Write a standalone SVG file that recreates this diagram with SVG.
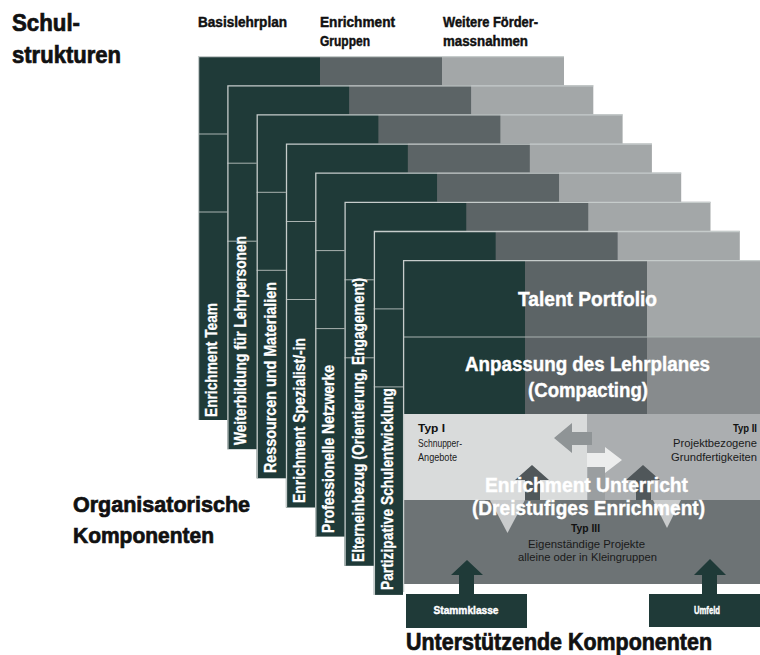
<svg xmlns="http://www.w3.org/2000/svg" width="760" height="655" viewBox="0 0 760 655">
<style>
.dk{fill:#1f3a38}.md{fill:#5c6466}.lt{fill:#a3a7a8}
.edge{fill:none;stroke:#c6cccb;stroke-width:1.3}
.sep{stroke:#a9b2b0;stroke-width:1}
.strip{font-family:"Liberation Sans",Arial,sans-serif;font-weight:bold;font-size:16px;fill:#ffffff;stroke:#ffffff;stroke-width:0.3}
.hd{font-family:"Liberation Sans",Arial,sans-serif;font-weight:bold;fill:#111111;stroke:#111111;stroke-width:0.7}
.hs{stroke-width:0.45}
.wt{font-family:"Liberation Sans",Arial,sans-serif;font-weight:bold;fill:#ffffff;stroke:#ffffff;stroke-width:0.4}
.sm{font-family:"Liberation Sans",Arial,sans-serif;font-size:11px;fill:#1a1a1a}
.smb{font-family:"Liberation Sans",Arial,sans-serif;font-size:11px;font-weight:bold;fill:#111111}
</style>
<defs>
<g id="card">
<rect class="dk" x="0" y="0" width="122" height="364"/>
<rect class="md" x="122" y="0" width="122" height="364"/>
<rect class="lt" x="244" y="0" width="122" height="364"/>
<line class="sep" x1="0" y1="78" x2="366" y2="78"/>
<line class="sep" x1="0" y1="156" x2="366" y2="156"/>
<path class="edge" d="M0.6,364 V0.6 H366"/>
</g>
</defs>
<rect width="760" height="655" fill="#ffffff"/>

<g id="headers">
<text class="hd" x="12" y="31" font-size="23" textLength="68" lengthAdjust="spacingAndGlyphs">Schul-</text>
<text class="hd" x="12" y="63" font-size="23" textLength="109" lengthAdjust="spacingAndGlyphs">strukturen</text>
<text class="hd hs" x="198" y="27" font-size="14" textLength="89" lengthAdjust="spacingAndGlyphs">Basislehrplan</text>
<text class="hd hs" x="320" y="27" font-size="14" textLength="75" lengthAdjust="spacingAndGlyphs">Enrichment</text>
<text class="hd hs" x="320" y="46" font-size="14" textLength="50" lengthAdjust="spacingAndGlyphs">Gruppen</text>
<text class="hd hs" x="443" y="27" font-size="14" textLength="95" lengthAdjust="spacingAndGlyphs">Weitere Förder-</text>
<text class="hd hs" x="443" y="46" font-size="14" textLength="85" lengthAdjust="spacingAndGlyphs">massnahmen</text>
<text class="hd" x="73" y="512" font-size="22" textLength="177" lengthAdjust="spacingAndGlyphs">Organisatorische</text>
<text class="hd" x="73" y="543" font-size="22" textLength="141" lengthAdjust="spacingAndGlyphs">Komponenten</text>
</g>

<g id="card-enrichment-team">
<use href="#card" x="198" y="56"/>
<text class="strip" transform="translate(217,417) rotate(-90)" textLength="114" lengthAdjust="spacingAndGlyphs">Enrichment Team</text>
</g>
<g id="card-weiterbildung">
<use href="#card" x="227.3" y="85.2"/>
<text class="strip" transform="translate(246.3,445) rotate(-90)" textLength="209" lengthAdjust="spacingAndGlyphs">Weiterbildung für Lehrpersonen</text>
</g>
<g id="card-ressourcen">
<use href="#card" x="256.6" y="114.3"/>
<text class="strip" transform="translate(275.6,473) rotate(-90)" textLength="191" lengthAdjust="spacingAndGlyphs">Ressourcen und Materialien</text>
</g>
<g id="card-spezialist">
<use href="#card" x="285.9" y="143.5"/>
<text class="strip" transform="translate(304.9,503) rotate(-90)" textLength="165" lengthAdjust="spacingAndGlyphs">Enrichment Spezialist/-in</text>
</g>
<g id="card-netzwerke">
<use href="#card" x="315.2" y="172.6"/>
<text class="strip" transform="translate(334.2,533) rotate(-90)" textLength="168" lengthAdjust="spacingAndGlyphs">Professionelle Netzwerke</text>
</g>
<g id="card-elterneinbezug">
<use href="#card" x="344.5" y="201.8"/>
<text class="strip" transform="translate(363.5,562) rotate(-90)" textLength="284" lengthAdjust="spacingAndGlyphs">Elterneinbezug (Orientierung, Engagement)</text>
</g>
<g id="card-schulentwicklung">
<use href="#card" x="373.8" y="230.9"/>
<text class="strip" transform="translate(392.8,590) rotate(-90)" textLength="202" lengthAdjust="spacingAndGlyphs">Partizipative Schulentwicklung</text>
</g>

<g id="front-card">
<rect x="403" y="260" width="357" height="395" fill="#ffffff"/>
<g id="talent-portfolio">
<rect class="dk" x="403" y="260" width="122" height="77"/>
<rect class="md" x="525" y="260" width="122" height="77"/>
<rect class="lt" x="647" y="260" width="113" height="77"/>
<text class="wt" x="587.5" y="306" font-size="20" text-anchor="middle" textLength="139" lengthAdjust="spacingAndGlyphs">Talent Portfolio</text>
</g>
<g id="anpassung">
<rect class="dk" x="403" y="337" width="122" height="77"/>
<rect x="525" y="337" width="122" height="77" fill="#5a6164"/>
<rect x="647" y="337" width="113" height="77" fill="#878b8d"/>
<line class="sep" x1="403" y1="337" x2="760" y2="337"/>
<text class="wt" x="587.5" y="371" font-size="20" text-anchor="middle" textLength="245" lengthAdjust="spacingAndGlyphs">Anpassung des Lehrplanes</text>
<text class="wt" x="588" y="397" font-size="20" text-anchor="middle" textLength="120" lengthAdjust="spacingAndGlyphs">(Compacting)</text>
</g>
<g id="enrichment-area">
<rect x="403" y="414" width="184" height="86" fill="#d9dbdb"/>
<rect x="587" y="414" width="173" height="86" fill="#abaeb0"/>
<rect x="403" y="500" width="357" height="84" fill="#6d7375"/>
</g>
<path class="edge" d="M403.6,592 V260.6 H760"/>
</g>

<g id="connectors">
<polygon points="554,438 572,423 572,432 592,432 592,445 572,445 572,453" fill="#8f9496"/>
<polygon points="622,460 605,447 605,453 587,453 587,467 605,467 605,473" fill="#eceded"/>
<rect x="588" y="467" width="17" height="33" fill="#9a9ea0"/>
<polygon points="532,465 549,480 540,480 540,500 525,500 525,480 515,480" fill="#50575a"/>
<polygon points="643,465 660,480 651,480 651,500 636,500 636,480 626,480" fill="#50575a"/>
<polygon points="490,500 525,500 507.5,533" fill="#c9cbcc"/>
<polygon points="653,500 681,500 667,528" fill="#c9cbcc"/>
<polygon points="467,560 483,575 474,575 474,595 459,595 459,575 451,575" fill="#1f3a38"/>
<polygon points="710,559 726,575 717,575 717,595 702,595 702,575 694,575" fill="#1f3a38"/>
</g>

<g id="enrichment-label">
<text class="wt" x="586.5" y="492" font-size="21" text-anchor="middle" textLength="203" lengthAdjust="spacingAndGlyphs">Enrichment Unterricht</text>
<text class="wt" x="588.5" y="515" font-size="21" text-anchor="middle" textLength="233" lengthAdjust="spacingAndGlyphs">(Dreistufiges Enrichment)</text>
</g>
<g id="typ1">
<text class="smb" x="418" y="432" textLength="27" lengthAdjust="spacingAndGlyphs">Typ I</text>
<text class="sm" x="418" y="447" textLength="44" lengthAdjust="spacingAndGlyphs">Schnupper-</text>
<text class="sm" x="418" y="461" textLength="39" lengthAdjust="spacingAndGlyphs">Angebote</text>
</g>
<g id="typ2">
<text class="smb" x="757" y="432" text-anchor="end" textLength="24" lengthAdjust="spacingAndGlyphs">Typ II</text>
<text class="sm" x="757" y="447" text-anchor="end" textLength="84" lengthAdjust="spacingAndGlyphs">Projektbezogene</text>
<text class="sm" x="757" y="461" text-anchor="end" textLength="86" lengthAdjust="spacingAndGlyphs">Grundfertigkeiten</text>
</g>
<g id="typ3">
<text class="smb" x="585.5" y="532" text-anchor="middle" textLength="29" lengthAdjust="spacingAndGlyphs">Typ III</text>
<text class="sm" x="586.5" y="548" text-anchor="middle" textLength="117" lengthAdjust="spacingAndGlyphs" fill="#2e3435">Eigenständige Projekte</text>
<text class="sm" x="587.5" y="561" text-anchor="middle" textLength="139" lengthAdjust="spacingAndGlyphs" fill="#2e3435">alleine oder in Kleingruppen</text>
</g>
<g id="stammklasse">
<rect class="dk" x="406" y="594" width="121" height="34"/>
<text class="wt" x="466" y="614" font-size="10" text-anchor="middle" textLength="65" lengthAdjust="spacingAndGlyphs">Stammklasse</text>
</g>
<g id="umfeld">
<rect class="dk" x="649" y="594" width="111" height="33"/>
<text class="wt" x="707" y="614" font-size="10" text-anchor="middle" textLength="26" lengthAdjust="spacingAndGlyphs">Umfeld</text>
</g>
<g id="footer">
<text class="hd" x="406" y="650" font-size="23" textLength="306" lengthAdjust="spacingAndGlyphs">Unterstützende Komponenten</text>
</g>
</svg>
